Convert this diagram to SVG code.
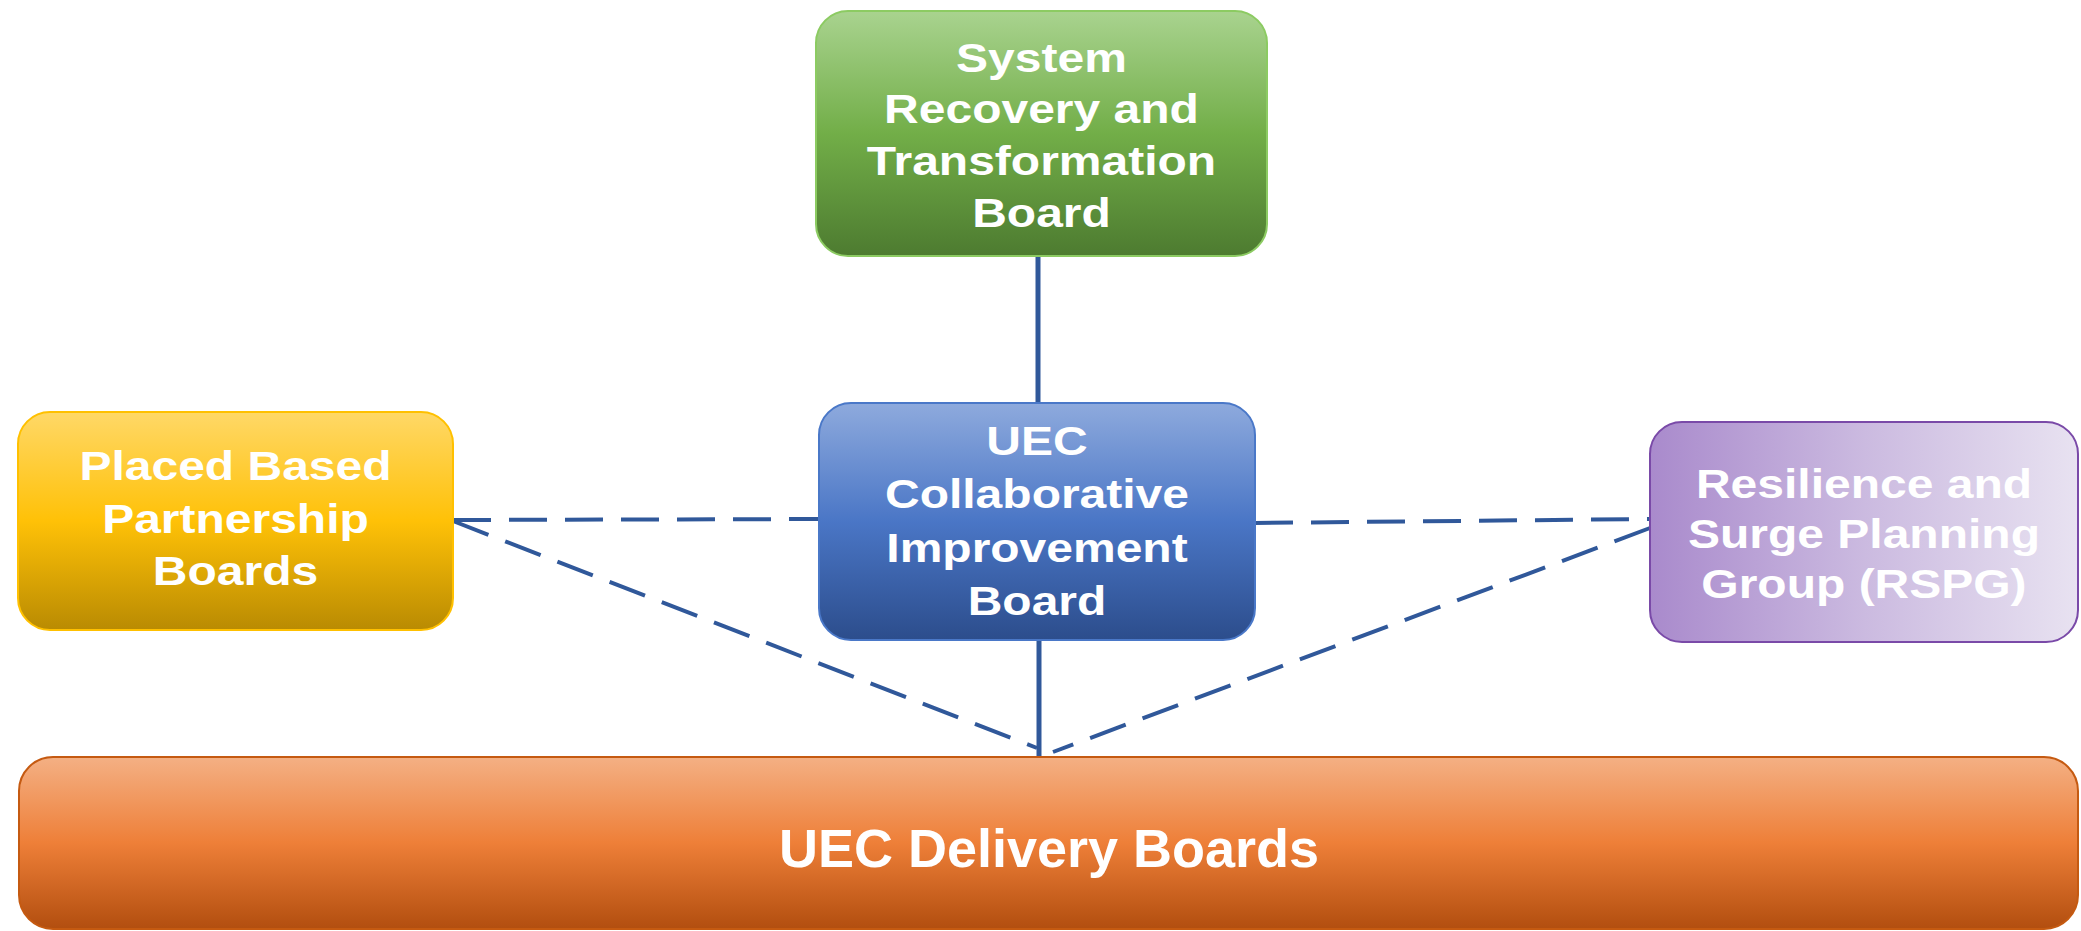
<svg xmlns="http://www.w3.org/2000/svg" width="2081" height="931" viewBox="0 0 2081 931">
  <defs>
    <linearGradient id="gGreen" x1="0" y1="0" x2="0" y2="1">
      <stop offset="0" stop-color="#A9D38F"/>
      <stop offset="0.5" stop-color="#72AE48"/>
      <stop offset="1" stop-color="#4D7B30"/>
    </linearGradient>
    <linearGradient id="gYellow" x1="0" y1="0" x2="0" y2="1">
      <stop offset="0" stop-color="#FFD867"/>
      <stop offset="0.5" stop-color="#FFC107"/>
      <stop offset="1" stop-color="#B98B02"/>
    </linearGradient>
    <linearGradient id="gBlue" x1="0" y1="0" x2="0" y2="1">
      <stop offset="0" stop-color="#8EAADD"/>
      <stop offset="0.5" stop-color="#4A76C6"/>
      <stop offset="1" stop-color="#2C4D8C"/>
    </linearGradient>
    <linearGradient id="gPurple" x1="0" y1="0" x2="1" y2="0">
      <stop offset="0" stop-color="#A98ACC"/>
      <stop offset="0.5" stop-color="#CBBAE0"/>
      <stop offset="1" stop-color="#E8E2F1"/>
    </linearGradient>
    <linearGradient id="gOrange" x1="0" y1="0" x2="0" y2="1">
      <stop offset="0" stop-color="#F4B084"/>
      <stop offset="0.5" stop-color="#EE7F38"/>
      <stop offset="1" stop-color="#B24E0F"/>
    </linearGradient>
  </defs>
  <style>
    .lbl { font-family: "Liberation Sans", Arial, sans-serif; font-weight: bold; fill: #FFFFFF; text-anchor: middle; font-size: 40px; }
    .big { font-size: 54px; }
    .solid { stroke: #30589A; stroke-width: 5; fill: none; }
    .dash { stroke: #30589A; stroke-width: 4; fill: none; stroke-dasharray: 38 18; }
  </style>
  <rect width="2081" height="931" fill="#FFFFFF"/>

  <g id="connectors">
    <line class="solid" x1="1038" y1="256" x2="1038" y2="403"/>
    <line class="solid" x1="1039" y1="640" x2="1039" y2="757"/>
    <line class="dash" x1="453" y1="520" x2="819" y2="519"/>
    <line class="dash" x1="1255" y1="523" x2="1650" y2="519"/>
    <line class="dash" x1="453" y1="521" x2="1037" y2="748"/>
    <line class="dash" x1="1650" y1="528" x2="1053" y2="752"/>
  </g>

  <g id="node-srtb">
    <rect x="816" y="11" width="451" height="245" rx="32" fill="url(#gGreen)" stroke="#8CCB62" stroke-width="2"/>
    <g class="lbl" transform="matrix(1.2 0 0 1 -208.3 0)">
      <text x="1041.5" y="72">System</text>
      <text x="1041.5" y="123">Recovery and</text>
      <text x="1041.5" y="175">Transformation</text>
      <text x="1041.5" y="227">Board</text>
    </g>
  </g>

  <g id="node-pbp">
    <rect x="18" y="412" width="435" height="218" rx="32" fill="url(#gYellow)" stroke="#FFC000" stroke-width="2"/>
    <g class="lbl" transform="matrix(1.2 0 0 1 -47.1 0)">
      <text x="235.5" y="480">Placed Based</text>
      <text x="235.5" y="533">Partnership</text>
      <text x="235.5" y="585">Boards</text>
    </g>
  </g>

  <g id="node-uec-cib">
    <rect x="819" y="403" width="436" height="237" rx="32" fill="url(#gBlue)" stroke="#4A78C8" stroke-width="2"/>
    <g class="lbl" transform="matrix(1.2 0 0 1 -207.4 0)">
      <text x="1037" y="455">UEC</text>
      <text x="1037" y="508">Collaborative</text>
      <text x="1037" y="562">Improvement</text>
      <text x="1037" y="615">Board</text>
    </g>
  </g>

  <g id="node-rspg">
    <rect x="1650" y="422" width="428" height="220" rx="32" fill="url(#gPurple)" stroke="#7A4AA8" stroke-width="2"/>
    <g class="lbl" transform="matrix(1.2 0 0 1 -372.8 0)">
      <text x="1864" y="498">Resilience and</text>
      <text x="1864" y="548">Surge Planning</text>
      <text x="1864" y="598">Group (RSPG)</text>
    </g>
  </g>

  <g id="node-uec-delivery">
    <rect x="19" y="757" width="2059" height="172" rx="34" fill="url(#gOrange)" stroke="#C55A11" stroke-width="2"/>
    <text class="lbl big" x="1049" y="867">UEC Delivery Boards</text>
  </g>
</svg>
